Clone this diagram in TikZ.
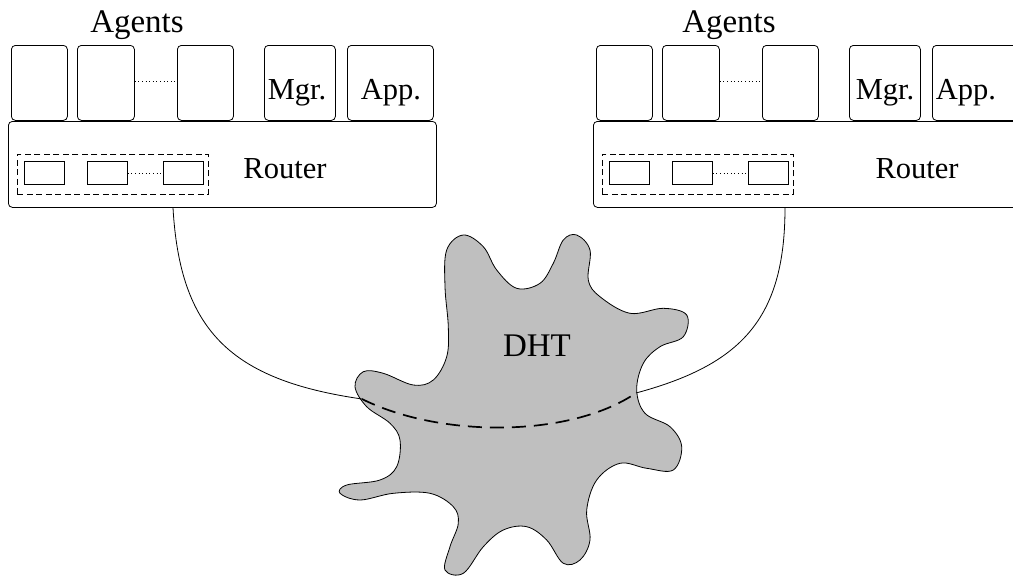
\documentclass[tikz,border=0pt]{standalone}
\usepackage{fontspec}
\setmainfont{Liberation Serif}
\begin{document}
\begin{tikzpicture}[x=1pt,y=-1pt,
  box/.style={draw, line width=0.8pt, rounded corners=4pt, inner sep=0pt, anchor=north west},
  slot/.style={draw, line width=0.8pt, inner sep=0pt, anchor=north west, minimum width=40pt, minimum height=23pt},
  group/.style={draw, line width=0.8pt, dash pattern=on 6pt off 3.5pt, inner sep=0pt, anchor=north west, minimum width=191pt, minimum height=40pt},
  dots/.style={line width=0.8pt, dash pattern=on 0.8pt off 2.8pt},
  lbl/.style={anchor=base, inner sep=0pt, font=\fontsize{30.5}{36}\selectfont},
  big/.style={anchor=base, inner sep=0pt, font=\fontsize{33}{38}\selectfont},
  link/.style={line width=0.8pt},
  hidden/.style={line width=1.7pt, dash pattern=on 14pt off 8pt}]
\useasboundingbox (0,0) rectangle (1013,579);
\clip (0,0) rectangle (1013,579);

% one host: agents on top of a router, shifted by \hx
\foreach \hx/\side in {0/l,585/r}{
  \begin{scope}[xshift=\hx]
    \node[box, minimum width=56pt, minimum height=75pt] (\side a1) at (11,45) {};
    \node[box, minimum width=57pt, minimum height=75pt] (\side a2) at (77,45) {};
    \node[box, minimum width=56pt, minimum height=75pt] (\side a3) at (177,45) {};
    \node[box, minimum width=71pt, minimum height=75pt] (\side mgr) at (264,45) {};
    \node[box, minimum width=86pt, minimum height=75pt] (\side app) at (347,45) {};
    \draw[dots] (\side a2.east |- 0,81) -- (\side a3.west |- 0,81);
    \node[box, minimum width=428pt, minimum height=86pt] (\side router) at (8,121) {};
    \node[group] (\side grp) at (17,154) {};
    \node[slot] (\side q1) at (24,161) {};
    \node[slot] (\side q2) at (87,161) {};
    \node[slot] (\side q3) at (163,161) {};
    \draw[dots] (\side q2.east) -- (\side q3.west);
  \end{scope}
}

% labels
\node[big] (lagents) at (137,32) {Agents};
\node[big] (ragents) at (729,32) {Agents};
\node[lbl] (lmgrtxt) at (297,99) {Mgr.};
\node[lbl] (lapptxt) at (391,99) {App.};
\node[lbl] (rmgrtxt) at (885,99) {Mgr.};
\node[lbl] (rapptxt) at (966,99) {App.};
\node[lbl] (lroutertxt) at (285,178) {Router};
\node[lbl] (rroutertxt) at (917,178) {Router};

% the DHT cloud
\draw[line width=0.8pt, fill=black!25] plot[smooth cycle, tension=0.6] coordinates {
 (445,286.7) (446.7,250) (463.3,235) (483.3,246.7) (496.7,270) (516.7,288.3)
 (540,283.3) (553.3,263.3) (563.3,240) (576.7,235) (590,250) (588.3,280)
 (600,296.7) (630,313.3) (663.3,308.3) (686.7,315) (683.3,336.7) (660,346.7)
 (643.3,363.3) (636.7,390) (645,413.3) (670,426.7) (681.7,446.7) (673.3,470)
 (646.7,468.3) (620,463.3) (596.7,480) (586.7,510) (590,540) (580,560)
 (563.3,563.3) (546.7,540) (526.7,526.7) (503.3,530) (483.3,546.7) (463.3,573.3)
 (445,570) (450,546.7) (458.3,523.3) (453.3,506.7) (430,493.3) (393.3,493.3)
 (360,500) (340,493.3) (346.7,485) (380,480) (396.7,466.7) (400,440)
 (390,423.3) (366.7,406.7) (355,386.7) (363.3,371.7) (383.3,373.3) (413.3,385)
 (433.3,380) (446.7,356.7) (448.3,326.7)};
\node[big] (dht) at (537,356) {DHT};

% path between the two routers through the DHT
\coordinate (lport) at (lrouter.south -| 173,0);
\coordinate (rport) at (rrouter.south -| 785,0);
\coordinate (dhtin) at (362,399);
\coordinate (dhtout) at (636,393);
\draw[link] (lport) .. controls (180,330) and (230,380) .. (dhtin);
\draw[hidden] (dhtin) .. controls (440,438) and (570,438) .. (dhtout);
\draw[link] (dhtout) .. controls (740,365) and (785,320) .. (rport);
\end{tikzpicture}
\end{document}
